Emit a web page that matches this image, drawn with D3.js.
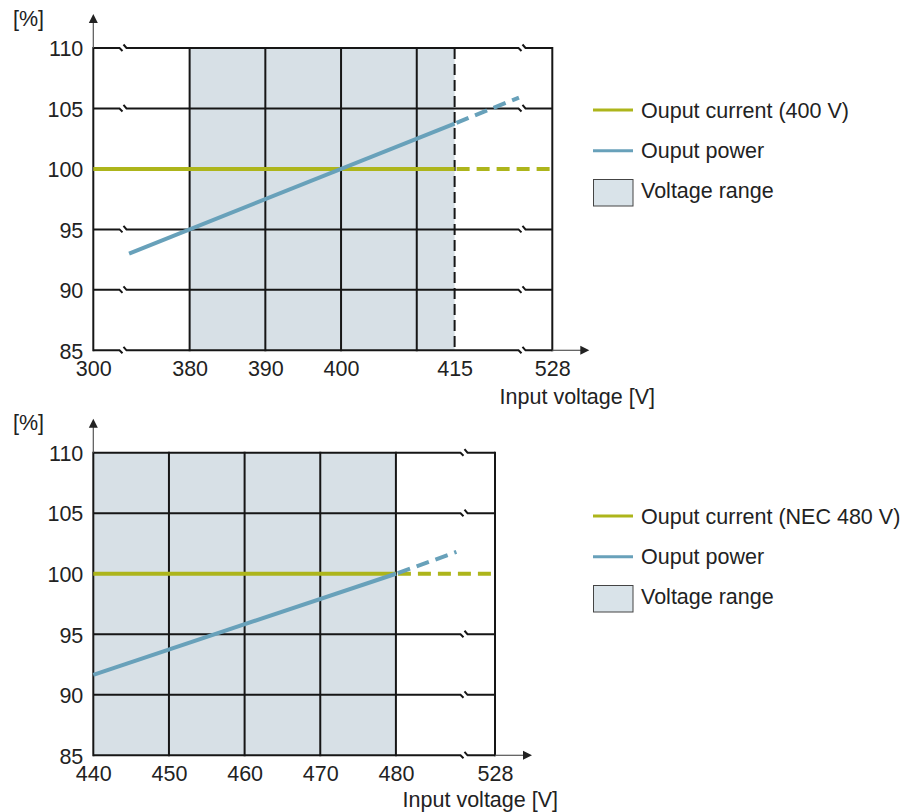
<!DOCTYPE html>
<html><head><meta charset="utf-8">
<script src="https://cdn.jsdelivr.net/npm/d3@7"></script>
<style>
html,body{margin:0;padding:0;background:#fff;}
svg{display:block;font-family:"Liberation Sans",Arial,Helvetica,sans-serif;}
</style></head><body>
<svg id="chart" width="906" height="812"></svg>
<script>
// ---------------- data ----------------
const yTicks = [85, 90, 95, 100, 105, 110];
const yGridValues = [85, 90, 95, 105, 110];
const yUnit = "[%]";
const xTitle = "Input voltage [V]";

// Chart 1 : 400 V
const topXTicks = [300, 380, 390, 400, 415, 528];
const topXGrid = [380, 390, 400, 410];
const topXDashed = [415];
const topRange = [380, 415];
const topBreaks = [371.2, 423.9];
const topCurrentSolid = [[300, 100], [415, 100]];
const topCurrentDashed = [[415, 100], [528, 100]];
const topPowerSolid = [[372, 93.0], [415, 103.75]];
const topPowerDashed = [[415, 103.75], [423.5, 105.9]];
const topLegend = ["Ouput current (400 V)", "Ouput power", "Voltage range"];

// Chart 2 : NEC 480 V
const botXTicks = [440, 450, 460, 470, 480, 528];
const botXGrid = [450, 460, 470, 480];
const botXDashed = [];
const botRange = [440, 480];
const botBreaks = [489];
const botCurrentSolid = [[440, 100], [480, 100]];
const botCurrentDashed = [[480, 100], [528, 100]];
const botPowerSolid = [[440, 91.65], [480, 100]];
const botPowerDashed = [[480, 100], [488, 101.8]];
const botLegend = ["Ouput current (NEC 480 V)", "Ouput power", "Voltage range"];

// ---------------- style ----------------
const C_GRID = "#161616";
const C_FILL = "#d7e0e6";
const C_GREEN = "#adb51b";
const C_BLUE = "#68a1ba";
const C_TEXT = "#222";
const FONT = 21.5;

const svg = d3.select("#chart");

function drawPanel(o) {
  const g = svg.append("g");
  const x = d3.scaleLinear().domain(o.xDomain).range(o.xRange);
  const y = d3.scaleLinear().domain([85, 110]).range(o.yRange);
  const x0 = x(o.xDomain[0]), x1 = x(o.xDomain[o.xDomain.length - 1]);
  const yB = y(85), yT = y(110);

  // voltage range shading
  g.append("rect")
    .attr("x", x(o.range[0])).attr("y", yT)
    .attr("width", x(o.range[1]) - x(o.range[0])).attr("height", yB - yT)
    .attr("fill", C_FILL);

  // horizontal grid lines with break marks
  const bx = o.breaks.map(b => x(b));
  g.selectAll(".hg").data(o.yGrid).join("path")
    .attr("fill", "none").attr("stroke", C_GRID).attr("stroke-width", 2)
    .attr("d", v => {
      const yy = y(v);
      let d = `M${x0},${yy}`;
      bx.forEach(c => {
        d += `H${c - 3.5}L${c - 0.5},${yy + 3}M${c + 0.5},${yy - 3.5}L${c + 3.5},${yy}`;
      });
      return d + `H${x1}`;
    });

  // vertical grid lines
  g.selectAll(".vg").data(o.xGrid.concat([o.xDomain[0], o.xDomain[o.xDomain.length - 1]])).join("line")
    .attr("x1", v => x(v)).attr("x2", v => x(v)).attr("y1", yB + 1).attr("y2", yT - 1)
    .attr("stroke", C_GRID).attr("stroke-width", 2);
  g.selectAll(".vd").data(o.xDashed).join("line")
    .attr("x1", v => x(v)).attr("x2", v => x(v)).attr("y1", yT).attr("y2", yB)
    .attr("stroke", C_GRID).attr("stroke-width", 2).attr("stroke-dasharray", "11,5");

  // axis arrows
  g.append("line").attr("x1", x0).attr("x2", x0).attr("y1", yT).attr("y2", yT - 26)
    .attr("stroke", "#555").attr("stroke-width", 1.2);
  g.append("path").attr("d", `M${x0},${yT - 34}L${x0 - 4.5},${yT - 25}L${x0 + 4.5},${yT - 25}Z`).attr("fill", "#222");
  g.append("line").attr("x1", x1).attr("x2", x1 + 29).attr("y1", yB).attr("y2", yB)
    .attr("stroke", "#555").attr("stroke-width", 1.2);
  g.append("path").attr("d", `M${x1 + 37},${yB}L${x1 + 28},${yB - 4.5}L${x1 + 28},${yB + 4.5}Z`).attr("fill", "#222");

  // data lines
  const line = d3.line().x(d => x(d[0])).y(d => y(d[1]));
  g.append("path").datum(o.curSolid).attr("d", line).attr("fill", "none")
    .attr("stroke", C_GREEN).attr("stroke-width", 4);
  g.append("path").datum(o.curDashed).attr("d", line).attr("fill", "none")
    .attr("stroke", C_GREEN).attr("stroke-width", 4).attr("stroke-dasharray", "13,7")
    .attr("stroke-dashoffset", -2);
  g.append("path").datum(o.powSolid).attr("d", line).attr("fill", "none")
    .attr("stroke", C_BLUE).attr("stroke-width", 4);
  g.append("path").datum(o.powDashed).attr("d", line).attr("fill", "none")
    .attr("stroke", C_BLUE).attr("stroke-width", 4).attr("stroke-dasharray", "13,7")
    .attr("stroke-dashoffset", -2);

  // y axis labels
  const ay = g.append("g").attr("transform", `translate(${x0},0)`)
    .call(d3.axisLeft(y).tickValues(yTicks).tickSize(0).tickPadding(10));
  ay.select(".domain").remove();
  ay.attr("font-size", FONT).attr("font-family", null);
  ay.selectAll("text").attr("fill", C_TEXT).attr("dy", "0.36em");

  // x axis labels
  const ax = g.append("g").attr("transform", `translate(0,${yB})`)
    .call(d3.axisBottom(x).tickValues(o.xTicks).tickSize(0).tickPadding(10).tickFormat(d3.format("d")));
  ax.select(".domain").remove();
  ax.attr("font-size", FONT).attr("font-family", null);
  ax.selectAll("text").attr("fill", C_TEXT);

  // titles
  g.append("text").attr("x", 13).attr("y", yT - 22.5).attr("font-size", FONT).attr("fill", C_TEXT).text(yUnit);
  g.append("text").attr("x", o.titleEnd).attr("y", yB + o.titleDy).attr("text-anchor", "end")
    .attr("font-size", FONT).attr("fill", C_TEXT).text(xTitle);

  // legend
  const L = g.append("g");
  const lx = 593, tx = 641;
  L.append("line").attr("x1", lx).attr("x2", lx + 40).attr("y1", o.legY).attr("y2", o.legY)
    .attr("stroke", C_GREEN).attr("stroke-width", 3);
  L.append("line").attr("x1", lx).attr("x2", lx + 40).attr("y1", o.legY + 40.7).attr("y2", o.legY + 40.7)
    .attr("stroke", C_BLUE).attr("stroke-width", 3);
  L.append("rect").attr("x", lx + 0.5).attr("y", o.legY + 69.5).attr("width", 39.5).attr("height", 26.5)
    .attr("fill", "#d9e3e9").attr("stroke", "#444").attr("stroke-width", 1);
  const ty = [o.legY + 7.5, o.legY + 48, o.legY + 87.5];
  L.selectAll("text").data(o.legend).join("text")
    .attr("x", tx).attr("y", (d, i) => ty[i]).attr("font-size", FONT).attr("fill", C_TEXT).text(d => d);
}

drawPanel({
  xDomain: [300, topBreaks[0], topBreaks[1], 528], xRange: [93.3, 123, 522, 552.3],
  yRange: [350.3, 48], yGrid: yGridValues, breaks: topBreaks,
  xTicks: topXTicks, xGrid: topXGrid, xDashed: topXDashed, range: topRange,
  curSolid: topCurrentSolid, curDashed: topCurrentDashed,
  powSolid: topPowerSolid, powDashed: topPowerDashed,
  legend: topLegend, legY: 110, titleEnd: 655, titleDy: 54
});
drawPanel({
  xDomain: [440, botBreaks[0], 528], xRange: [93.3, 464, 495],
  yRange: [755.3, 452.7], yGrid: yGridValues, breaks: botBreaks,
  xTicks: botXTicks, xGrid: botXGrid, xDashed: botXDashed, range: botRange,
  curSolid: botCurrentSolid, curDashed: botCurrentDashed,
  powSolid: botPowerSolid, powDashed: botPowerDashed,
  legend: botLegend, legY: 516, titleEnd: 558, titleDy: 51.5
});
</script>
</body></html>
